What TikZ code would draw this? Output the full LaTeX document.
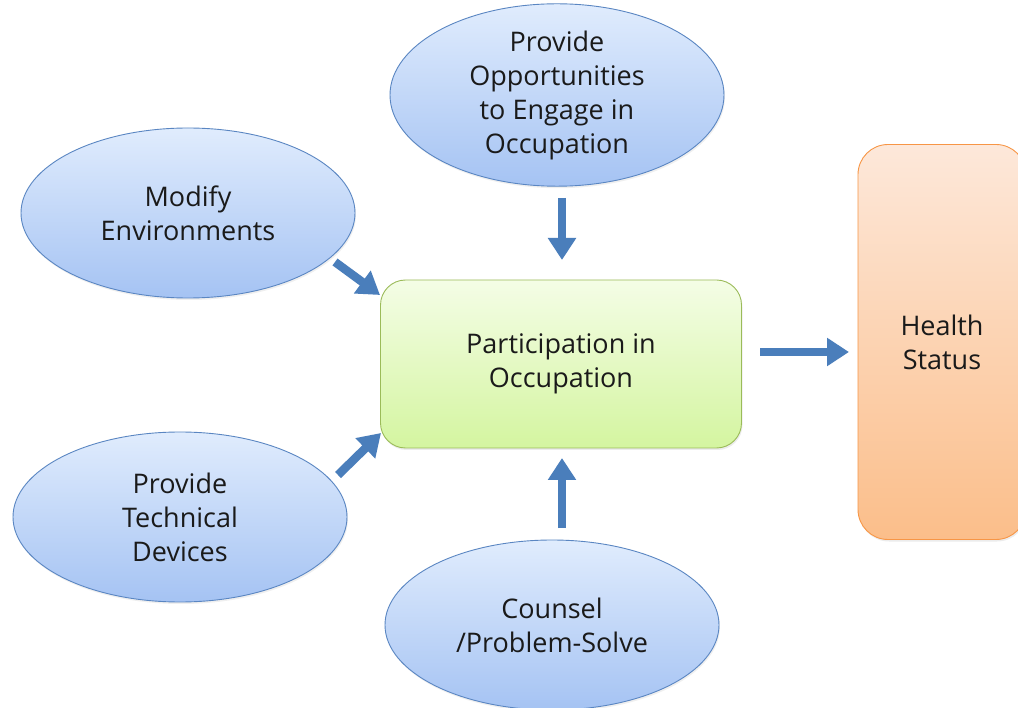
\documentclass[tikz,border=0pt]{standalone}
\usepackage{fontspec}
\setmainfont{Open Sans}
\usetikzlibrary{arrows.meta,shadows}
\definecolor{ellborder}{HTML}{5A86C2}
\definecolor{elltop}{HTML}{E0ECFD}
\definecolor{ellbot}{HTML}{A5C3F3}
\definecolor{recttop}{HTML}{F4FDE6}
\definecolor{rectbot}{HTML}{D4F5A0}
\definecolor{rectborder}{HTML}{9BBB59}
\definecolor{hstop}{HTML}{FDE8DA}
\definecolor{hsbot}{HTML}{FBBE8A}
\definecolor{hsborder}{HTML}{F79646}
\definecolor{arrowblue}{HTML}{4A7EBB}
\definecolor{txt}{HTML}{1A1A1A}
\tikzset{
  txtfont/.style={font=\fontsize{27}{34}\selectfont, text=txt, align=center},
  ellnode/.style={ellipse, draw=ellborder, line width=0.9pt, top color=elltop, bottom color=ellbot,
    minimum width=334pt, minimum height=170pt, inner sep=0pt, txtfont,
    drop shadow={opacity=0.12, shadow xshift=1pt, shadow yshift=-2pt}},
  midnode/.style={rectangle, rounded corners=25pt, draw=rectborder, line width=0.9pt, top color=recttop, bottom color=rectbot,
    minimum width=361pt, minimum height=168pt, txtfont,
    drop shadow={opacity=0.15, shadow xshift=1pt, shadow yshift=-2pt}},
  hsnode/.style={rectangle, rounded corners=30pt, draw=hsborder, line width=0.9pt, top color=hstop, bottom color=hsbot,
    minimum width=168pt, minimum height=395pt, txtfont,
    drop shadow={opacity=0.15, shadow xshift=1pt, shadow yshift=-2pt}},
  blockarrow/.style={draw=arrowblue, line width=8.5pt, -{Triangle[length=22pt,width=27pt]}}
}
\usetikzlibrary{shapes.geometric}
\begin{document}
\begin{tikzpicture}[x=1pt,y=-1pt]
\useasboundingbox (0,0) rectangle (1018,708);
\clip (0,0) rectangle (1018,708);
\fill[white] (0,0) rectangle (1018,708);

\node[ellnode] (opp) at (557,95) {Provide\\Opportunities\\to Engage in\\Occupation};
\node[ellnode] (env) at (188,213) {Modify\\Environments};
\node[ellnode] (dev) at (180,517) {Provide\\Technical\\Devices};
\node[ellnode] (cou) at (552,625) {Counsel\\/Problem-Solve};
\node[midnode] (mid) at (561,364) {Participation in\\Occupation};
\node[hsnode] (hs) at (942,342) {Health\\Status};

\coordinate (a1s) at (562,198);
\coordinate (a1e) at (562,260);
\coordinate (a2s) at (335,262);
\coordinate (a2e) at (380,295);
\coordinate (a3s) at (338,475);
\coordinate (a3e) at (381,433);
\coordinate (a4s) at (562,528);
\coordinate (a4e) at (562,458);
\coordinate (a5s) at (760,352);
\coordinate (a5e) at (849,352);

\draw[blockarrow] (a1s) -- (a1e);
\draw[blockarrow] (a2s) -- (a2e);
\draw[blockarrow] (a3s) -- (a3e);
\draw[blockarrow] (a4s) -- (a4e);
\draw[blockarrow] (a5s) -- (a5e);
\end{tikzpicture}
\end{document}
